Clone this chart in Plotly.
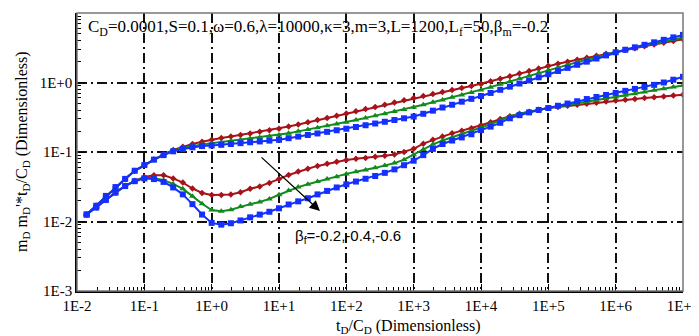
import plotly.graph_objects as go

# sample times t_D/C_D : 7 points per decade from ~1.4E-2 to 1E+7
td = [10 ** (i / 7) for i in range(-13, 50)]

# log10 of dimensionless values (beta_f = -0.2, -0.4, -0.6)
upper_red_log = [
    -1.90, -1.773, -1.632, -1.505, -1.387, -1.27, -1.188,
    -1.108, -1.035, -0.97, -0.925, -0.885, -0.852, -0.823,
    -0.80, -0.778, -0.755, -0.733, -0.71, -0.688, -0.665,
    -0.634, -0.603, -0.572, -0.541, -0.509, -0.478, -0.447,
    -0.415, -0.383, -0.351, -0.32, -0.288, -0.256, -0.224,
    -0.195, -0.166, -0.137, -0.108, -0.078, -0.049, -0.02,
    0.017, 0.054, 0.091, 0.129, 0.166, 0.203, 0.24,
    0.269, 0.298, 0.327, 0.355, 0.384, 0.413, 0.442,
    0.468, 0.494, 0.52, 0.545, 0.571, 0.597, 0.623]
upper_green_log = [
    -1.90, -1.773, -1.632, -1.505, -1.387, -1.27, -1.188,
    -1.11, -1.042, -0.98, -0.942, -0.915, -0.893, -0.875,
    -0.858, -0.841, -0.824, -0.807, -0.79, -0.773, -0.756,
    -0.73, -0.703, -0.677, -0.65, -0.624, -0.597, -0.571,
    -0.54, -0.509, -0.479, -0.448, -0.417, -0.387, -0.356,
    -0.321, -0.285, -0.25, -0.214, -0.179, -0.143, -0.108,
    -0.067, -0.026, 0.015, 0.056, 0.098, 0.139, 0.18,
    0.217, 0.254, 0.291, 0.329, 0.366, 0.403, 0.44,
    0.47, 0.499, 0.529, 0.559, 0.588, 0.618, 0.647]
upper_blue_log = [
    -1.90, -1.773, -1.632, -1.505, -1.387, -1.27, -1.188,
    -1.11, -1.045, -0.99, -0.956, -0.932, -0.915, -0.906,
    -0.897, -0.885, -0.873, -0.86, -0.848, -0.836, -0.824,
    -0.801, -0.778, -0.755, -0.733, -0.71, -0.687, -0.665,
    -0.64, -0.615, -0.59, -0.565, -0.54, -0.515, -0.49,
    -0.45, -0.405, -0.36, -0.32, -0.276, -0.235, -0.195,
    -0.15, -0.105, -0.06, -0.015, 0.03, 0.075, 0.12,
    0.165, 0.21, 0.255, 0.30, 0.345, 0.39, 0.435,
    0.471, 0.506, 0.542, 0.578, 0.614, 0.649, 0.685]
lower_red_log = [
    -1.90, -1.80, -1.69, -1.585, -1.487, -1.415, -1.36,
    -1.335, -1.335, -1.38, -1.44, -1.525, -1.59, -1.62,
    -1.62, -1.612, -1.578, -1.53, -1.495, -1.445, -1.39,
    -1.33, -1.28, -1.24, -1.2, -1.17, -1.14, -1.115,
    -1.098, -1.085, -1.07, -1.055, -1.035, -1.0, -0.955,
    -0.88, -0.825, -0.778, -0.732, -0.695, -0.657, -0.616,
    -0.572, -0.525, -0.485, -0.45, -0.42, -0.392, -0.367,
    -0.351, -0.336, -0.321, -0.306, -0.29, -0.275, -0.26,
    -0.248, -0.236, -0.224, -0.212, -0.2, -0.187, -0.175]
lower_green_log = [
    -1.90, -1.80, -1.69, -1.585, -1.49, -1.42, -1.375,
    -1.375, -1.405, -1.46, -1.53, -1.635, -1.745, -1.835,
    -1.852, -1.83, -1.785, -1.75, -1.72, -1.675, -1.615,
    -1.555, -1.505, -1.465, -1.425, -1.39, -1.355, -1.315,
    -1.285, -1.26, -1.228, -1.195, -1.16, -1.11, -1.04,
    -0.965, -0.89, -0.835, -0.79, -0.745, -0.7, -0.655,
    -0.6, -0.545, -0.49, -0.45, -0.42, -0.393, -0.367,
    -0.344, -0.322, -0.299, -0.277, -0.254, -0.232, -0.209,
    -0.185, -0.161, -0.137, -0.113, -0.09, -0.066, -0.042]
lower_blue_log = [
    -1.90, -1.80, -1.69, -1.585, -1.49, -1.42, -1.38,
    -1.39, -1.43, -1.51, -1.61, -1.75, -1.90, -2.02,
    -2.045, -2.025, -1.985, -1.94, -1.9, -1.86, -1.81,
    -1.755, -1.71, -1.665, -1.61, -1.56, -1.51, -1.465,
    -1.425, -1.385, -1.345, -1.3, -1.25, -1.19, -1.125,
    -1.045, -0.955, -0.885, -0.835, -0.79, -0.745, -0.685,
    -0.635, -0.58, -0.515, -0.47, -0.43, -0.395, -0.367,
    -0.335, -0.303, -0.27, -0.238, -0.208, -0.179, -0.15,
    -0.12, -0.092, -0.064, -0.034, 0.0, 0.04, 0.082]

x_tick_vals = [1e-2, 1e-1, 1e0, 1e1, 1e2, 1e3, 1e4, 1e5, 1e6, 1e7]
x_tick_text = ["1E-2", "1E-1", "1E+0", "1E+1", "1E+2", "1E+3", "1E+4", "1E+5", "1E+6", "1E+7"]
y_tick_vals = [1e-3, 1e-2, 1e-1, 1e0]
y_tick_text = ["1E-3", "1E-2", "1E-1", "1E+0"]

RED = "#A8121A"
GREEN = "#138A1E"
BLUE = "#1430FF"

series = [
    (upper_red_log, RED, "diamond", 5),
    (upper_green_log, GREEN, "triangle-up", 6),
    (upper_blue_log, BLUE, "square", 6),
    (lower_red_log, RED, "diamond", 5),
    (lower_green_log, GREEN, "triangle-up", 6),
    (lower_blue_log, BLUE, "square", 6),
]

fig = go.Figure()
for order in [(0, 3), (1, 4), (2, 5)]:
    for idx in order:
        vals, col, sym, sz = series[idx]
        fig.add_trace(go.Scatter(
            x=td, y=[10 ** v for v in vals], mode="lines+markers",
            line=dict(color=col, width=2),
            marker=dict(symbol=sym, size=sz, color=col),
            showlegend=False))

SERIF = "Liberation Serif"
grid_dash = "10px,4px,2px,4px"

minor_x = [m * 10 ** e for e in range(-2, 7) for m in range(2, 10)]
minor_y = [m * 10 ** e for e in range(-3, 1) for m in range(2, 10)]

PW = 699 - 69 - 24  # plot width in px

fig.update_xaxes(
    type="log", range=[-2, 7],
    tickvals=x_tick_vals, ticktext=x_tick_text,
    ticks="inside", ticklen=7, tickwidth=1.2, tickcolor="black",
    showline=True, linecolor="black", linewidth=1.5,
    showgrid=True, gridcolor="#111111", gridwidth=1.6, griddash=grid_dash,
    zeroline=False,
    tickfont=dict(family=SERIF, size=15, color="black"),
    minor=dict(tickvals=minor_x, ticks="inside", ticklen=4, tickcolor="black", showgrid=False),
)
fig.update_yaxes(
    type="log", range=[-3, 1],
    tickvals=y_tick_vals, ticktext=y_tick_text,
    ticks="inside", ticklen=8, tickwidth=1.2, tickcolor="black",
    showline=True, linecolor="black", linewidth=1.5,
    showgrid=True, gridcolor="#111111", gridwidth=1.6, griddash=grid_dash,
    zeroline=False,
    tickfont=dict(family=SERIF, size=15, color="black"),
    minor=dict(tickvals=minor_y, ticks="inside", ticklen=4, tickcolor="black", showgrid=False),
)

fig.update_layout(
    width=699, height=336,
    margin=dict(l=69, r=24, t=5, b=53),
    plot_bgcolor="white", paper_bgcolor="white",
    shapes=[dict(type="rect", xref="paper", yref="paper", x0=0, x1=1, y0=0, y1=1,
                 line=dict(color="#777777", width=1.5), layer="above")],
    annotations=[
        dict(text="C<sub>D</sub>=0.0001,S=0.1,ω=0.6,λ=10000,κ=3,m=3,L=1200,L<sub>f</sub>=50,β<sub>m</sub>=-0.2",
             xref="paper", yref="paper", x=(78 - 69) / PW, y=(283 - 20) / 278,
             xanchor="left", yanchor="middle", showarrow=False,
             font=dict(family=SERIF, size=17, color="black")),
        dict(text="β<sub>f</sub>=-0.2,-0.4,-0.6",
             xref="paper", yref="paper", x=(285 - 69) / PW, y=(283 - 228) / 278,
             xanchor="left", yanchor="middle", showarrow=False,
             font=dict(family="Liberation Sans", size=15, color="black")),
        dict(text="", xref="paper", yref="paper",
             x=(312 - 69) / PW, y=(283 - 203) / 278,
             ax=-60, ay=-55, showarrow=True,
             arrowhead=2, arrowsize=1.6, arrowwidth=1.3, arrowcolor="black"),
        dict(text="t<sub>D</sub>/C<sub>D</sub> (Dimensionless)",
             xref="paper", yref="paper", x=(400 - 69) / PW, y=(283 - 318) / 278,
             xanchor="center", yanchor="middle", showarrow=False,
             font=dict(family=SERIF, size=16, color="black")),
        dict(text="m<sub>D</sub> m<sub>D</sub>'*t<sub>D</sub>/C<sub>D</sub> (Dimensionless)",
             xref="paper", yref="paper", x=(14 - 69) / PW, y=0.5,
             xanchor="center", yanchor="middle", textangle=-90, showarrow=False,
             font=dict(family=SERIF, size=16, color="black")),
    ],
)

fig.write_html("out.html")
